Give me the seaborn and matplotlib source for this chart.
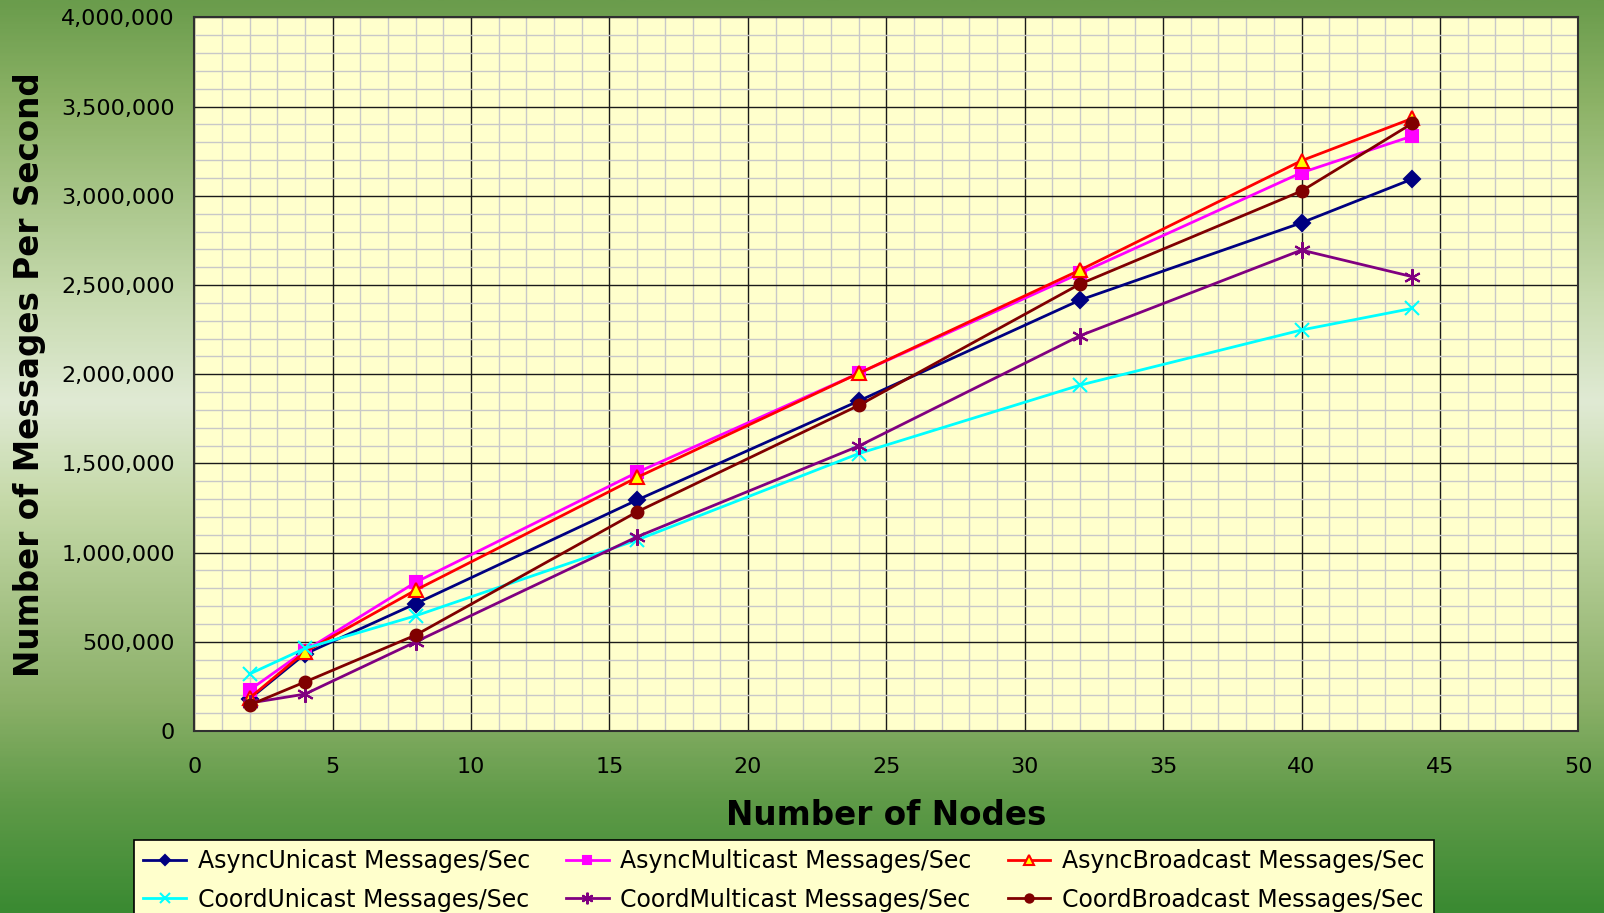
import numpy as np
import pandas as pd
import seaborn as sns
import matplotlib.pyplot as plt
from matplotlib.colors import LinearSegmentedColormap
from matplotlib.ticker import MultipleLocator, FuncFormatter

nodes = [2, 4, 8, 16, 24, 32, 40, 44]
async_unicast = [180000, 432000, 714000, 1295000, 1850000, 2416000, 2849000, 3094000]
async_multicast = [230000, 450000, 834000, 1450000, 2005000, 2566000, 3130000, 3335000]
async_broadcast = [185000, 444000, 790000, 1422000, 2005000, 2584000, 3197000, 3434000]
coord_unicast = [320000, 463000, 646000, 1071000, 1555000, 1939000, 2248000, 2369000]
coord_multicast = [157000, 207000, 500000, 1089000, 1597000, 2216000, 2696000, 2547000]
coord_broadcast = [146000, 275000, 538000, 1229000, 1825000, 2506000, 3027000, 3406000]

series_names = ['AsyncUnicast Messages/Sec', 'AsyncMulticast Messages/Sec',
                'AsyncBroadcast Messages/Sec', 'CoordUnicast Messages/Sec',
                'CoordMulticast Messages/Sec', 'CoordBroadcast Messages/Sec']
series_vals = [async_unicast, async_multicast, async_broadcast,
               coord_unicast, coord_multicast, coord_broadcast]

styles = {
    'AsyncUnicast Messages/Sec': dict(color='#000080', marker='D', ms=8, mfc='#000080', mec='#000080'),
    'AsyncMulticast Messages/Sec': dict(color='#ff00ff', marker='s', ms=8, mfc='#ff00ff', mec='#ff00ff'),
    'AsyncBroadcast Messages/Sec': dict(color='#ff0000', marker='^', ms=10, mfc='#ffff00', mec='#ff0000'),
    'CoordUnicast Messages/Sec': dict(color='#00ffff', marker='x', ms=10, mfc='#00ffff', mec='#00ffff'),
    'CoordMulticast Messages/Sec': dict(color='#800080', marker=(6, 2, 0), ms=12, mfc='#800080', mec='#800080'),
    'CoordBroadcast Messages/Sec': dict(color='#800000', marker='o', ms=8.5, mfc='#800000', mec='#800000'),
}

plt.rcParams['font.family'] = ['DejaVu Sans']

fig = plt.figure(figsize=(16.04, 9.13), dpi=100)

# green gradient background
stops = [(0.0, '#6a9c4c'), (0.11, '#8cb266'), (0.33, '#c8dbb0'), (0.44, '#e0ead4'),
         (0.55, '#c5d9a8'), (0.66, '#a8c488'), (0.77, '#8bb068'), (0.88, '#5f9a48'),
         (1.0, '#3a8a32')]
cmap = LinearSegmentedColormap.from_list('bg', stops)
bg = fig.add_axes([0, 0, 1, 1], zorder=-10)
bg.imshow(np.linspace(0, 1, 400).reshape(-1, 1), aspect='auto', cmap=cmap,
          extent=[0, 1, 0, 1])
bg.axis('off')

ax = fig.add_axes([0.1211, 0.1993, 0.8629, 0.7816])
ax.set_facecolor('#ffffcc')

for name, vals in zip(series_names, series_vals):
    st = styles[name]
    sns.lineplot(x=nodes, y=vals, ax=ax, color=st['color'], marker=st['marker'],
                 markersize=st['ms'], markerfacecolor=st['mfc'],
                 markeredgecolor=st['mec'], markeredgewidth=1.5,
                 linewidth=2, label=name, zorder=3)

ax.set_xlim(0, 50)
ax.set_ylim(0, 4000000)
ax.xaxis.set_major_locator(MultipleLocator(5))
ax.xaxis.set_minor_locator(MultipleLocator(1))
ax.yaxis.set_major_locator(MultipleLocator(500000))
ax.yaxis.set_minor_locator(MultipleLocator(100000))
ax.yaxis.set_major_formatter(FuncFormatter(lambda v, p: f'{v:,.0f}'))
ax.grid(which='minor', color='#c8c8c8', linewidth=1)
ax.grid(which='major', color='#1a1a1a', linewidth=1)
ax.set_axisbelow(True)
ax.tick_params(which='both', length=0)
ax.tick_params(axis='y', labelsize=16, pad=14, colors='#000000')
ax.tick_params(axis='x', labelsize=16, pad=19, colors='#000000')
for s in ax.spines.values():
    s.set_color('#303030')
    s.set_linewidth(1.5)

ax.set_xlabel('Number of Nodes', fontsize=23.5, fontweight='bold')
ax.xaxis.label.set_va('center')
ax.xaxis.set_label_coords(0.5, -0.119)
ax.set_ylabel('Number of Messages Per Second', fontsize=23.5, fontweight='bold')
ax.yaxis.label.set_va('center')
ax.yaxis.set_label_coords(-0.119, 0.5)

handles, labels = ax.get_legend_handles_labels()
order = [0, 3, 1, 4, 2, 5]
ax.legend([handles[i] for i in order], [labels[i] for i in order], ncol=3,
          loc='upper left', bbox_to_anchor=(134 / 1604, 0, 1300 / 1604, 1 - 840 / 913),
          bbox_transform=fig.transFigure, mode='expand', borderaxespad=0,
          fontsize=17, frameon=True, fancybox=False, facecolor='#ffffcc',
          edgecolor='#000000', framealpha=1, handlelength=1.8, handletextpad=0.5,
          labelspacing=0.6, markerscale=0.7)
ax.get_legend().get_frame().set_linewidth(1.2)

fig.savefig('out.png', dpi=100)
